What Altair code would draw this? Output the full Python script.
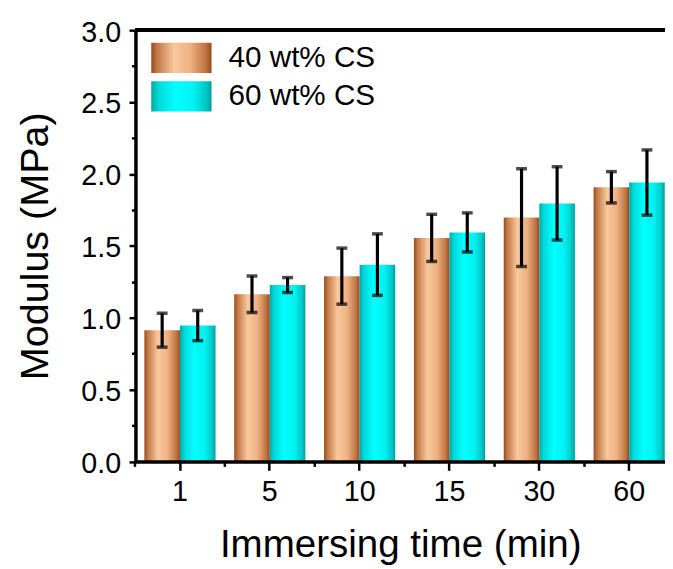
import altair as alt
import pandas as pd

# ---- data ----
times = ["1", "5", "10", "15", "30", "60"]
series_names = ["40 wt% CS", "60 wt% CS"]
modulus_40 = [0.913, 1.163, 1.289, 1.555, 1.696, 1.907]
err_40 = [0.118, 0.127, 0.195, 0.164, 0.340, 0.109]
modulus_60 = [0.945, 1.227, 1.369, 1.593, 1.795, 1.940]
err_60 = [0.105, 0.052, 0.214, 0.136, 0.255, 0.227]

y_major_ticks = [0.0, 0.5, 1.0, 1.5, 2.0, 2.5, 3.0]
y_minor_ticks = [0.25, 0.75, 1.25, 1.75, 2.25, 2.75]
y_max = 3.0

copper_stops = [(0.0, "#9c4a1a"), (0.1, "#c27a48"), (0.38, "#f9c89c"),
                (0.65, "#eeb182"), (0.9, "#bf7544"), (1.0, "#9a4818")]
cyan_stops = [(0.0, "#00a8a8"), (0.12, "#00d8d8"), (0.4, "#00ffff"),
              (0.7, "#00f2f2"), (0.92, "#00c4c4"), (1.0, "#009a9a")]


def gradient_expr(stops):
    s = ", ".join("{offset: %s, color: '%s'}" % (o, c) for o, c in stops)
    return "{gradient: 'linear', x1: 0, y1: 0, x2: 1, y2: 0, stops: [%s]}" % s


rows = []
for name, vals, errs in [(series_names[0], modulus_40, err_40),
                         (series_names[1], modulus_60, err_60)]:
    for t, v, e in zip(times, vals, errs):
        rows.append({"time": t, "series": name, "value": v,
                     "lo": v - e, "hi": v + e})
df = pd.DataFrame(rows)

FONT = "Liberation Sans"

x_scale = alt.Scale(domain=times, paddingInner=0.2083, paddingOuter=0.0512, align=0.97)
xoff = alt.XOffset("series:N", sort=series_names,
                   scale=alt.Scale(domain=series_names, paddingInner=0, paddingOuter=0))
y_scale = alt.Scale(domain=[0, y_max], nice=False, zero=True)

x_major_axis = alt.Axis(title="Immersing time (min)", orient="bottom", labelAngle=0,
                        labelFontSize=29, labelPadding=7.3, tickSize=9, tickWidth=2.5,
                        domainWidth=3, titleFontSize=39, titlePadding=19.7,
                        titleFontWeight="normal", grid=False, zindex=1)
x_minor_axis = alt.Axis(title=None, orient="bottom", labels=False, bandPosition=-0.1315,
                        tickSize=5, tickWidth=2.5, domainWidth=3, grid=False, zindex=1)
y_major_axis = alt.Axis(title="Modulus (MPa)", orient="left", values=y_major_ticks,
                        format=".1f", labelFontSize=29, labelPadding=8.5, labelOffset=2,
                        tickSize=6.5, tickWidth=2.5, domainWidth=3, titleFontSize=40,
                        titlePadding=26, titleFontWeight="normal", grid=False, zindex=1)
y_minor_axis = alt.Axis(title=None, orient="left", values=y_minor_ticks, labels=False,
                        tickSize=4, tickWidth=2.5, domainWidth=3, grid=False, zindex=1)

base = alt.Chart(df)

bars = base.mark_bar().encode(
    x=alt.X("time:N", sort=times, scale=x_scale, axis=x_major_axis),
    xOffset=xoff,
    y=alt.Y("value:Q", scale=y_scale, axis=y_major_axis),
    color=alt.Color(
        "series:N",
        scale=alt.Scale(domain=series_names,
                        range=[alt.ExprRef(expr=gradient_expr(copper_stops)),
                               alt.ExprRef(expr=gradient_expr(cyan_stops))]),
        legend=alt.Legend(title=None, orient="none", legendX=31, legendY=12.5,
                          symbolType="M-2,-1H2V1H-2Z", symbolSize=930.25,
                          symbolStrokeWidth=0, labelFontSize=30, labelOffset=32.25,
                          rowPadding=8, padding=0, labelFont=FONT, labelColor="black"),
    ),
)

err_rules = base.mark_rule(color="black", strokeWidth=3.2).encode(
    x=alt.X("time:N", sort=times, axis=x_minor_axis),
    xOffset=xoff,
    y=alt.Y("lo:Q", axis=y_minor_axis),
    y2="hi:Q",
)

caps_lo = base.mark_tick(color="black", size=11, thickness=3.5).encode(
    x=alt.X("time:N", sort=times, axis=None),
    xOffset=xoff,
    y=alt.Y("lo:Q", axis=None),
)
caps_hi = base.mark_tick(color="black", size=11, thickness=3.5).encode(
    x=alt.X("time:N", sort=times, axis=None),
    xOffset=xoff,
    y=alt.Y("hi:Q", axis=None),
)

top_line = alt.Chart(df).mark_rule(color="black", strokeWidth=3).encode(
    y=alt.YDatum(y_max, axis=None)
)

chart = (
    alt.layer(bars, err_rules, caps_lo, caps_hi, top_line)
    .resolve_axis(x="independent", y="independent")
    .properties(width=536, height=436.5,
                autosize=alt.AutoSizeParams(type="none"),
                padding={"left": 129, "top": 19, "right": 0, "bottom": 110})
    .configure(font=FONT)
    .configure_view(stroke=None)
    .configure_axis(labelColor="black", titleColor="black", domainColor="black",
                    tickColor="black", labelFont=FONT, titleFont=FONT)
)

chart.save("out.html", embed_options={"renderer": "svg", "actions": False})
